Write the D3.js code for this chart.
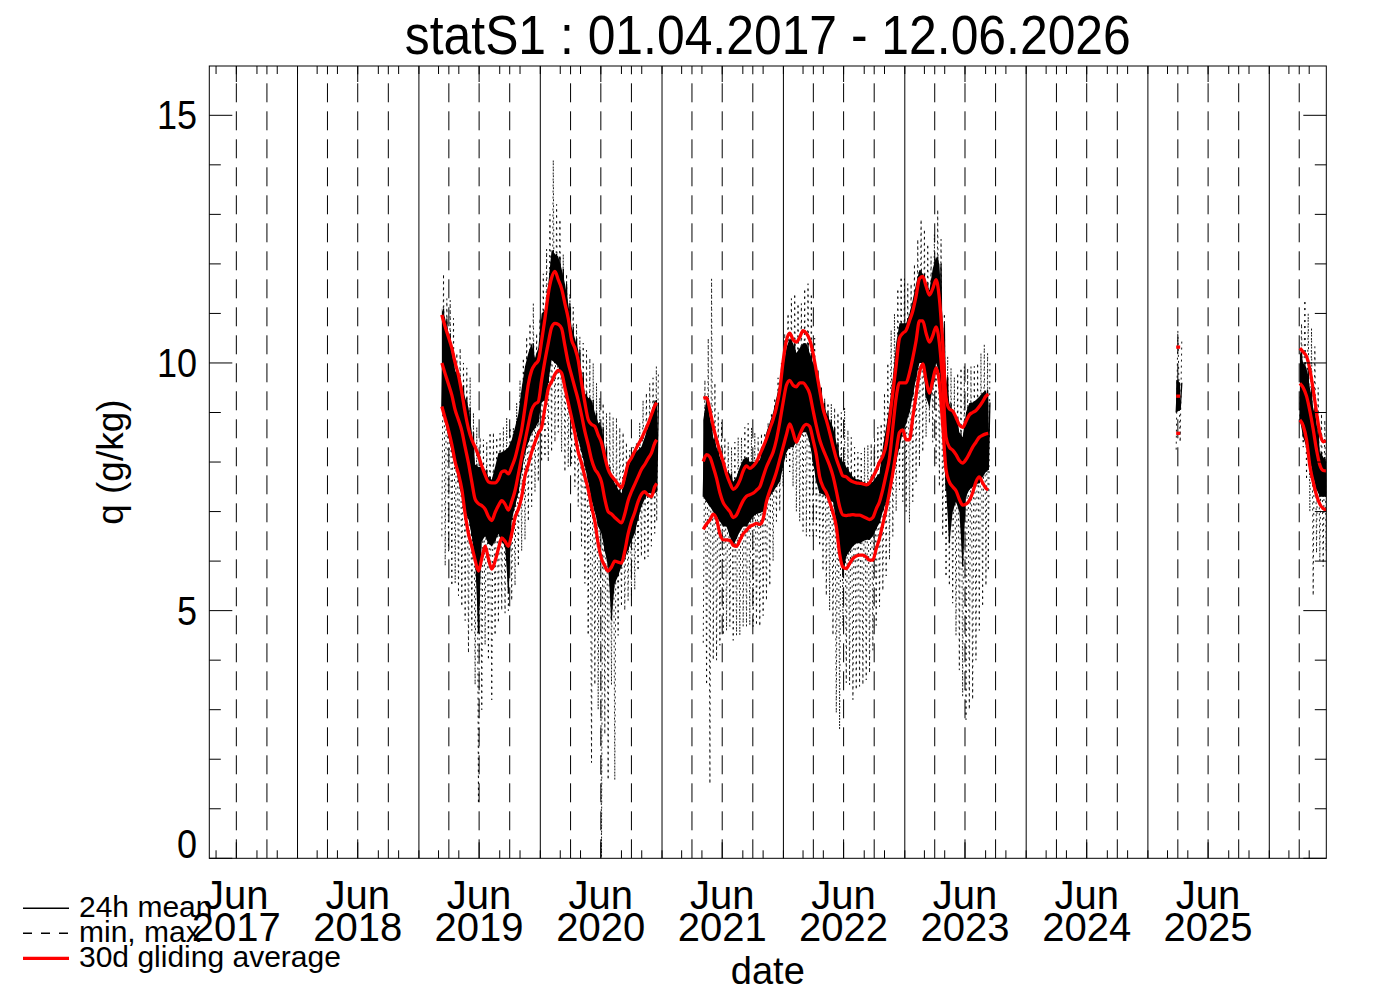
<!DOCTYPE html>
<html><head><meta charset="utf-8">
<script src="https://cdn.jsdelivr.net/npm/d3@7"></script>
<style>
html,body{margin:0;padding:0;background:#fff;}
svg{display:block;}
text{font-family:"Liberation Sans",Arial,Helvetica,sans-serif;fill:#000;}
</style>
</head><body>
<svg id="chart" width="1388" height="992"></svg>
<script>
// ---------------- DATA ----------------
const titleText = "statS1 : 01.04.2017 - 12.06.2026";
const yLabelText = "q (g/kg)";
const xLabelText = "date";
const legendLabels = ["24h mean", "min, max", "30d gliding average"];
const yMajorTicks = [0, 5, 10, 15];
const yMinorTicks = [1, 2, 3, 4, 6, 7, 8, 9, 11, 12, 13, 14];
const xTickMonthLabel = "Jun";
const xTickYears = [2017, 2018, 2019, 2020, 2021, 2022, 2023, 2024, 2025];

// segment 1 : Mar 2019 - Dec 2020
const seg1Dates = ["2019-03-11","2019-03-21","2019-03-31","2019-04-10","2019-04-20","2019-04-30","2019-05-10","2019-05-20","2019-05-30","2019-06-09","2019-06-19","2019-06-29","2019-07-09","2019-07-19","2019-07-29","2019-08-08","2019-08-18","2019-08-28","2019-09-07","2019-09-17","2019-09-27","2019-10-07","2019-10-17","2019-10-27","2019-11-06","2019-11-16","2019-11-26","2019-12-06","2019-12-16","2019-12-26","2020-01-05","2020-01-15","2020-01-25","2020-02-04","2020-02-14","2020-02-24","2020-03-05","2020-03-15","2020-03-25","2020-04-04","2020-04-14","2020-04-24","2020-05-04","2020-05-14","2020-05-24","2020-06-03","2020-06-13","2020-06-23","2020-07-03","2020-07-13","2020-07-23","2020-08-02","2020-08-12","2020-08-22","2020-09-01","2020-09-11","2020-09-21","2020-10-01","2020-10-11","2020-10-21","2020-10-31","2020-11-10","2020-11-20","2020-11-30","2020-12-10","2020-12-16"];
const seg1AvgMax = [10.97,10.73,10.52,10.3,10.0,9.75,9.4,9.0,8.67,8.45,8.3,8.13,7.92,7.74,7.6,7.58,7.58,7.65,7.8,7.82,7.76,7.9,8.08,8.35,8.65,9.1,9.57,9.85,9.97,10.05,10.45,10.9,11.4,11.72,11.85,11.68,11.5,11.2,10.9,10.47,10.3,10.05,9.6,9.2,8.86,8.76,8.72,8.55,8.39,8.1,7.85,7.72,7.64,7.55,7.48,7.7,7.97,8.08,8.22,8.35,8.47,8.62,8.77,8.95,9.13,9.2];
const seg1AvgMean = [10.0,9.78,9.57,9.35,9.05,8.85,8.63,8.3,7.98,7.6,7.25,7.16,7.12,7.05,6.9,6.82,6.98,7.12,7.22,7.15,7.03,7.2,7.42,7.75,8.1,8.42,8.75,9.05,9.17,9.22,9.65,10.05,10.4,10.72,10.8,10.78,10.7,10.35,10.0,9.75,9.5,9.25,8.95,8.62,8.35,8.05,7.86,7.76,7.6,7.25,7.0,6.95,6.88,6.82,6.77,6.95,7.22,7.4,7.55,7.7,7.85,7.95,8.07,8.18,8.38,8.45];
const seg1AvgMin = [9.12,8.88,8.64,8.35,8.0,7.76,7.45,6.95,6.55,6.3,6.02,5.8,6.05,6.3,6.05,5.84,6.0,6.25,6.47,6.4,6.3,6.55,6.88,7.05,7.3,7.72,7.95,8.2,8.4,8.58,8.7,9.1,9.48,9.62,9.77,9.85,9.8,9.5,9.2,8.9,8.58,8.2,7.98,7.7,7.45,7.1,6.8,6.35,6.05,5.9,5.8,5.88,6.0,5.98,5.96,6.2,6.55,6.8,6.98,7.2,7.35,7.4,7.33,7.3,7.5,7.57];
const seg1MeanLo = [9.1,8.8,8.5,8.2,7.95,7.6,7.3,7.0,6.85,6.5,6.0,4.55,6.4,6.5,6.35,6.3,6.4,6.55,6.4,6.3,5.35,6.83,7.1,7.37,7.8,8.18,8.4,8.58,8.68,8.8,9.2,9.25,9.6,10.06,10.0,9.93,9.7,9.52,9.25,8.98,8.7,8.45,8.2,7.91,7.6,7.23,7.0,6.7,6.56,6.2,5.89,4.81,5.55,5.7,5.89,6.05,6.22,6.4,6.56,6.85,7.1,7.25,7.37,7.37,7.37,7.4];
const seg1MeanHi = [11.1,10.9,10.6,10.2,9.85,9.7,9.55,9.3,9.1,8.6,7.95,7.9,7.9,7.85,7.7,7.64,7.9,8.18,8.2,8.24,8.3,8.45,8.7,8.98,9.5,9.93,10.2,10.4,10.1,10.3,11.0,11.07,11.6,12.28,12.2,12.15,11.9,11.6,11.2,10.73,10.5,10.26,9.8,9.39,9.3,9.25,9.0,8.8,8.71,8.3,7.9,7.7,7.57,7.45,7.37,7.6,7.9,8.05,8.18,8.25,8.31,8.5,8.71,9.0,9.25,9.2];
const seg1DayMin = [6.5,5.9,6.2,5.5,5.55,5.3,5.08,4.8,4.14,4.6,3.5,1.1,3.0,4.3,4.0,3.2,4.5,4.75,5.0,4.95,5.0,5.2,5.5,5.89,6.2,6.43,6.8,7.1,7.4,7.6,8.0,8.1,8.0,8.2,8.4,8.6,8.2,7.8,7.9,7.97,7.5,7.1,6.3,5.55,4.5,1.93,3.5,3.0,0.03,2.5,1.58,3.5,1.58,4.5,5.08,5.0,5.2,5.3,5.42,5.8,6.09,6.0,6.09,6.3,6.56,6.8];
const seg1DayMax = [11.8,11.3,11.27,10.9,10.2,10.3,10.0,9.9,9.72,9.0,8.71,8.5,8.45,8.4,8.6,8.6,8.5,8.58,8.7,8.9,8.7,8.7,9.2,9.66,10.1,10.53,10.8,11.2,10.6,10.9,11.8,12.3,13.0,14.1,13.2,12.9,12.2,11.8,11.4,11.13,10.8,10.53,10.4,10.26,10.1,10.0,9.6,9.3,9.19,9.0,9.0,8.9,8.9,8.7,8.6,8.4,8.24,8.3,8.38,8.8,9.25,9.4,9.59,9.7,9.93,9.8];

// segment 2 : May 2021 - Sep 2023
const seg2Dates = ["2021-05-05","2021-05-15","2021-05-25","2021-06-04","2021-06-14","2021-06-24","2021-07-04","2021-07-14","2021-07-24","2021-08-03","2021-08-13","2021-08-23","2021-09-02","2021-09-12","2021-09-22","2021-10-02","2021-10-12","2021-10-22","2021-11-01","2021-11-11","2021-11-21","2021-12-01","2021-12-11","2021-12-21","2021-12-31","2022-01-10","2022-01-20","2022-01-30","2022-02-09","2022-02-19","2022-03-01","2022-03-11","2022-03-21","2022-03-31","2022-04-10","2022-04-20","2022-04-30","2022-05-10","2022-05-20","2022-05-30","2022-06-09","2022-06-19","2022-06-29","2022-07-09","2022-07-19","2022-07-29","2022-08-08","2022-08-18","2022-08-28","2022-09-07","2022-09-17","2022-09-27","2022-10-07","2022-10-17","2022-10-27","2022-11-06","2022-11-16","2022-11-26","2022-12-06","2022-12-16","2022-12-26","2023-01-05","2023-01-15","2023-01-25","2023-02-04","2023-02-14","2023-02-24","2023-03-06","2023-03-16","2023-03-26","2023-04-05","2023-04-15","2023-04-25","2023-05-05","2023-05-15","2023-05-25","2023-06-04","2023-06-14","2023-06-24","2023-07-04","2023-07-14","2023-07-24","2023-08-03","2023-08-13","2023-08-23","2023-09-02","2023-09-09"];
const seg2AvgMax = [9.29,9.3,9.05,8.72,8.45,8.22,8.0,7.76,7.58,7.45,7.5,7.63,7.82,7.92,7.87,7.92,8.0,8.15,8.3,8.47,8.67,8.86,9.1,9.45,10.03,10.45,10.6,10.47,10.42,10.52,10.65,10.6,10.47,10.2,9.83,9.45,9.08,8.85,8.6,8.32,8.07,7.88,7.72,7.7,7.64,7.6,7.58,7.57,7.56,7.54,7.58,7.7,7.83,8.0,8.12,8.35,8.85,9.4,9.95,10.5,10.6,10.66,10.85,11.05,11.35,11.7,11.75,11.55,11.37,11.5,11.68,11.3,10.4,9.3,9.07,9.03,8.9,8.75,8.7,8.82,8.95,9.0,9.04,9.12,9.22,9.33,9.37];
const seg2AvgMean = [8.01,8.15,8.1,7.9,7.67,7.38,7.18,7.08,7.0,6.88,6.93,7.08,7.22,7.31,7.34,7.37,7.43,7.5,7.7,7.9,8.05,8.2,8.45,8.8,9.2,9.55,9.65,9.55,9.52,9.6,9.6,9.52,9.38,9.05,8.73,8.45,8.26,8.1,7.93,7.72,7.42,7.1,6.93,6.92,6.93,6.94,6.93,6.93,6.9,6.87,6.84,6.88,7.05,7.2,7.45,7.75,8.08,8.7,9.3,9.6,9.6,9.6,9.8,10.1,10.45,10.85,10.85,10.6,10.42,10.55,10.73,10.4,9.6,8.5,8.3,8.24,8.15,8.03,7.98,8.05,8.17,8.3,8.4,8.5,8.54,8.57,8.58];
const seg2AvgMin = [6.64,6.75,6.83,6.95,6.85,6.55,6.43,6.43,6.42,6.32,6.3,6.42,6.55,6.62,6.7,6.73,6.76,6.74,6.85,7.2,7.42,7.6,7.8,8.05,8.3,8.55,8.77,8.6,8.4,8.55,8.7,8.76,8.72,8.45,8.15,7.7,7.5,7.38,7.2,6.98,6.7,6.15,5.88,5.85,5.95,6.05,6.1,6.12,6.12,6.08,6.02,6.02,6.25,6.46,6.75,7.05,7.4,7.78,8.2,8.6,8.65,8.45,8.45,8.9,9.35,9.8,9.98,9.65,9.39,9.65,9.9,9.6,8.75,7.85,7.6,7.5,7.42,7.25,7.13,7.15,7.22,7.38,7.6,7.7,7.58,7.47,7.44];
const seg2MeanLo = [7.3,7.2,7.1,7.0,6.9,6.8,6.7,6.7,6.5,6.3,6.45,6.6,6.7,6.7,6.8,6.9,6.95,6.97,7.0,7.2,7.3,7.4,7.5,7.6,7.9,8.2,8.3,8.3,8.4,8.5,8.6,8.6,8.4,8.0,7.6,7.37,7.35,7.3,7.23,7.2,6.8,6.3,5.68,6.1,6.2,6.3,6.36,6.36,6.4,6.43,6.43,6.5,6.65,6.77,7.0,7.2,7.44,7.7,8.0,8.3,8.6,8.78,9.0,9.32,9.7,10.0,10.0,9.3,9.12,9.5,10.0,9.8,8.5,7.44,6.36,7.0,7.2,7.0,5.89,7.3,7.44,7.5,7.55,7.57,7.7,7.8,7.84];
const seg2MeanHi = [8.85,9.3,8.9,8.5,8.3,8.1,7.9,7.8,7.77,7.6,7.7,7.9,8.05,8.1,8.0,8.0,8.0,8.04,8.3,8.6,8.8,9.0,9.3,9.6,9.9,10.3,10.5,10.4,10.2,10.3,10.4,10.4,10.2,10.0,9.85,9.5,9.2,9.0,8.85,8.7,8.4,8.1,8.0,7.9,7.8,7.7,7.65,7.64,7.6,7.57,7.57,7.6,7.7,7.77,8.3,8.7,9.12,9.7,10.4,10.8,10.8,10.8,11.0,11.27,11.6,11.88,11.8,11.6,11.47,11.9,12.15,12.0,10.8,9.72,9.19,9.0,8.9,8.6,8.5,9.0,9.19,9.2,9.25,9.32,9.4,9.45,9.2];
const seg2DayMin = [4.35,3.5,1.5,4.0,4.0,4.3,4.5,4.6,4.68,4.4,4.5,4.5,4.68,4.68,4.7,4.68,4.7,4.68,4.9,5.2,5.5,6.0,6.8,7.0,7.5,8.0,7.8,7.5,7.0,6.8,6.6,6.5,6.5,6.5,6.5,6.3,5.8,5.3,5.0,4.5,2.93,2.6,4.68,3.54,3.5,3.2,3.4,3.47,3.5,3.6,3.74,4.2,4.7,5.08,5.4,5.7,6.02,6.5,7.0,7.44,7.2,7.0,6.77,7.2,7.6,7.9,8.2,8.5,8.78,8.4,7.97,7.5,6.5,5.68,5.5,5.15,4.5,3.8,3.27,2.8,3.0,3.2,4.0,4.6,5.08,5.5,5.8];
const seg2DayMax = [9.66,10.5,11.7,9.6,9.0,8.8,8.5,8.4,8.3,8.4,8.5,8.5,8.7,8.78,8.7,8.6,8.5,8.58,8.6,8.8,9.0,9.3,9.7,10.0,10.6,11.0,11.3,11.4,11.2,11.2,11.5,11.6,11.4,10.5,9.7,9.5,9.3,9.2,9.18,9.1,9.0,9.0,9.1,8.65,8.5,8.3,8.2,8.18,8.3,8.35,8.38,8.5,8.7,8.78,9.4,10.0,10.67,11.0,11.5,11.74,11.7,11.6,11.6,12.0,12.5,12.9,12.7,12.4,12.15,12.6,13.1,12.5,11.0,10.13,9.9,9.72,9.8,9.9,9.93,9.9,9.93,9.93,10.0,10.2,10.37,10.2,10.0];

// segment 3 : early April 2025
const seg3Dates = ["2025-03-27","2025-04-08"];
const seg3AvgMax = [10.32,10.32];
const seg3AvgMean = [9.33,9.33];
const seg3AvgMin = [8.58,8.58];
const seg3MeanLo = [9.0,9.05];
const seg3MeanHi = [9.66,9.6];
const seg3DayMin = [8.25,8.4];
const seg3DayMax = [10.66,10.5];

// segment 4 : Apr - Jun 2026
const seg4Dates = ["2026-04-03","2026-04-13","2026-04-23","2026-05-03","2026-05-13","2026-05-23","2026-06-02","2026-06-12","2026-06-21"];
const seg4AvgMax = [10.3,10.22,10.13,9.87,9.46,9.0,8.59,8.41,8.43];
const seg4AvgMean = [9.59,9.5,9.33,9.03,8.66,8.25,7.94,7.83,7.82];
const seg4AvgMin = [8.85,8.73,8.45,7.92,7.6,7.33,7.15,7.06,7.03];
const seg4MeanLo = [8.85,8.5,8.3,8.05,7.7,7.45,7.3,7.3,7.3];
const seg4MeanHi = [10.25,10.0,9.9,9.5,9.1,8.8,8.2,8.1,8.0];
const seg4DayMin = [8.8,8.3,7.64,7.0,5.3,6.16,6.0,5.89,6.2];
const seg4DayMax = [10.8,11.27,11.0,10.7,10.33,9.5,8.98,8.85,8.6];

// ---------------- CHART ----------------
const parse = d3.utcParse("%Y-%m-%d");
const segments = [
  [seg1Dates, seg1MeanLo, seg1MeanHi, seg1DayMin, seg1DayMax, seg1AvgMean, seg1AvgMin, seg1AvgMax],
  [seg2Dates, seg2MeanLo, seg2MeanHi, seg2DayMin, seg2DayMax, seg2AvgMean, seg2AvgMin, seg2AvgMax],
  [seg3Dates, seg3MeanLo, seg3MeanHi, seg3DayMin, seg3DayMax, seg3AvgMean, seg3AvgMin, seg3AvgMax],
  [seg4Dates, seg4MeanLo, seg4MeanHi, seg4DayMin, seg4DayMax, seg4AvgMean, seg4AvgMin, seg4AvgMax]
].map(a => ({dates: a[0].map(parse), lo: a[1], hi: a[2], mn: a[3], mx: a[4], avg: a[5], avgMin: a[6], avgMax: a[7]}));

const L = 209.3, R = 1326.3, T = 66, B = 858.3;
const xStart = new Date(Date.UTC(2017, 3, 10, 17));
const xEnd = new Date(Date.UTC(2026, 5, 21, 10));
const x = d3.scaleUtc().domain([xStart, xEnd]).range([L, R]);
const y = d3.scaleLinear().domain([0, 16]).range([B, B - 16 * (B - 115.3) / 15]);

const svg = d3.select("#chart");
svg.append("rect").attr("width", 1388).attr("height", 992).attr("fill", "#fff");
svg.append("clipPath").attr("id", "plotclip").append("rect")
  .attr("x", L).attr("y", T).attr("width", R - L).attr("height", B - T);

// vertical year / quarter lines
const grid = svg.append("g").attr("clip-path", "url(#plotclip)");
const years = d3.utcYear.range(xStart, xEnd);
grid.selectAll("line.yr").data(years).join("line").attr("class", "yr")
  .attr("x1", d => x(d)).attr("x2", d => x(d)).attr("y1", B).attr("y2", T)
  .attr("stroke", "#000").attr("stroke-width", 1);
const quarters = d3.utcMonth.every(3).range(xStart, xEnd).filter(d => d.getUTCMonth() !== 0);
grid.selectAll("line.q").data(quarters).join("line").attr("class", "q")
  .attr("x1", d => x(d)).attr("x2", d => x(d)).attr("y1", B).attr("y2", T)
  .attr("stroke", "#000").attr("stroke-width", 1).attr("stroke-dasharray", "19,9");

const dataG = svg.append("g").attr("clip-path", "url(#plotclip)");
const zigLine = d3.line().x(p => x(p[0])).y(p => y(p[1]));
function zig(dates, a, b) {
  const pts = [];
  dates.forEach((d, i) => { pts.push([d, a[i]]); pts.push([d3.utcDay.offset(d, 5), b[i]]); });
  return pts;
}
// min / max dashed
segments.forEach(s => {
  dataG.append("path").attr("d", zigLine(zig(s.dates, s.mn, s.mx)))
    .attr("fill", "none").attr("stroke", "#000").attr("stroke-width", 0.9)
    .attr("stroke-dasharray", "2,4");
});
// 24h mean band
const area = d3.area().x(i => x(i.d)).y0(i => y(i.lo)).y1(i => y(i.hi));
segments.forEach(s => {
  const rows = s.dates.map((d, i) => ({d, lo: s.lo[i], hi: s.hi[i]}));
  dataG.append("path").attr("d", area(rows)).attr("fill", "#000").attr("stroke", "none");
  dataG.append("path").attr("d", zigLine(zig(s.dates, s.lo, s.hi)))
    .attr("fill", "none").attr("stroke", "#000").attr("stroke-width", 1.3);
});
// 30d gliding averages
const redLine = d3.line().x(p => x(p[0])).y(p => y(p[1])).curve(d3.curveMonotoneX);
segments.forEach(s => {
  [s.avgMax, s.avg, s.avgMin].forEach(vals => {
    dataG.append("path").attr("d", redLine(s.dates.map((d, i) => [d, vals[i]])))
      .attr("fill", "none").attr("stroke", "#ff0000").attr("stroke-width", 3.3)
      .attr("stroke-linejoin", "round");
  });
});

// frame
const ax = svg.append("g").attr("stroke", "#000").attr("stroke-width", 1);
ax.append("rect").attr("x", L).attr("y", T).attr("width", R - L).attr("height", B - T).attr("fill", "none");
// y ticks (both sides)
function yTick(v, len) {
  ax.append("line").attr("x1", L).attr("x2", L + len).attr("y1", y(v)).attr("y2", y(v));
  ax.append("line").attr("x1", R - len).attr("x2", R).attr("y1", y(v)).attr("y2", y(v));
}
yMajorTicks.forEach(v => yTick(v, 23));
yMinorTicks.forEach(v => yTick(v, 11.5));
// x ticks (bottom and top)
const majorDates = xTickYears.map(yr => new Date(Date.UTC(yr, 6, 1)));
const minorDates = d3.utcMonth.every(2).range(xStart, xEnd).filter(d => d.getUTCMonth() !== 6);
function xTick(d, len) {
  ax.append("line").attr("x1", x(d)).attr("x2", x(d)).attr("y1", B).attr("y2", B - len);
  ax.append("line").attr("x1", x(d)).attr("x2", x(d)).attr("y1", T).attr("y2", T + len);
}
majorDates.forEach(d => xTick(d, 16));
minorDates.forEach(d => xTick(d, 8));

// y tick labels
svg.selectAll("text.ytl").data(yMajorTicks).join("text").attr("class", "ytl")
  .attr("x", 197).attr("y", v => Math.min(y(v) + 14, B))
  .attr("text-anchor", "end").attr("font-size", 40).text(v => v)
  .each(function() { const w = this.getComputedTextLength(); d3.select(this).attr("textLength", w * 0.9).attr("lengthAdjust", "spacingAndGlyphs"); });
// x tick labels (two lines in one text element)
const xl = svg.selectAll("text.xtl").data(majorDates).join("text").attr("class", "xtl")
  .attr("text-anchor", "middle").attr("font-size", 40);
xl.append("tspan").attr("x", d => x(d)).attr("y", 909).text(xTickMonthLabel);
xl.append("tspan").attr("x", d => x(d)).attr("y", 941).text(d => d.getUTCFullYear());

// title & axis titles
svg.append("text").attr("x", (L + R) / 2).attr("y", 54).attr("text-anchor", "middle")
  .attr("font-size", 55).attr("textLength", 726).attr("lengthAdjust", "spacingAndGlyphs").text(titleText);
svg.append("text").attr("transform", `translate(123,${(T + B) / 2}) rotate(-90)`)
  .attr("text-anchor", "middle").attr("font-size", 37).text(yLabelText);
svg.append("text").attr("x", (L + R) / 2).attr("y", 984).attr("text-anchor", "middle")
  .attr("font-size", 38).text(xLabelText);

// legend
const lg = svg.append("g");
const legendY = [908.3, 933.3, 958.3];
const legendStyles = [
  {stroke: "#000", w: 1.5, dash: null},
  {stroke: "#000", w: 1.5, dash: "9,9"},
  {stroke: "#ff0000", w: 3.3, dash: null}
];
legendLabels.forEach((lab, i) => {
  lg.append("line").attr("x1", 23).attr("x2", 69).attr("y1", legendY[i]).attr("y2", legendY[i])
    .attr("stroke", legendStyles[i].stroke).attr("stroke-width", legendStyles[i].w)
    .attr("stroke-dasharray", legendStyles[i].dash);
  lg.append("text").attr("x", 79).attr("y", legendY[i] + 8.4).attr("font-size", 30).text(lab);
});
</script>
</body></html>
